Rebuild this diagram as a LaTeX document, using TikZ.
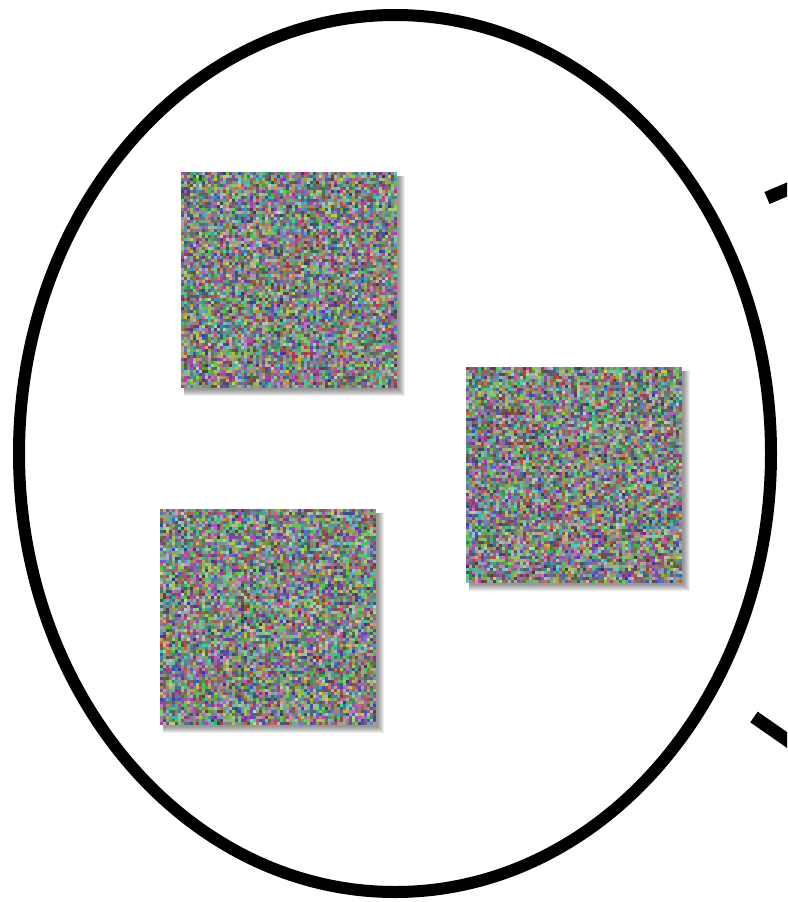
\documentclass[tikz,border=0pt]{standalone}
\usepackage{tikz}
\tikzset{
  outline/.style={line width=12pt, black},
  stub/.style={line width=13pt, black, line cap=butt},
  shadowlayer/.style={fill=black, opacity=0.07},
}
% noise square: #1 = left x, #2 = top y (pixels, y downwards), 72x72 cells of 3px
\newcommand\noisesquare[2]{%
  \begin{scope}
  \foreach \i in {0,...,71}{%
    \foreach \j in {0,...,71}{%
      \pgfmathrandominteger{\noiR}{50}{205}%
      \pgfmathrandominteger{\noiG}{55}{210}%
      \pgfmathrandominteger{\noiB}{50}{205}%
      \definecolor{noisecol}{RGB}{\noiR,\noiG,\noiB}%
      \pgfsetfillcolor{noisecol}%
      \pgfpathrectangle{\pgfqpoint{\dimexpr #1pt+3pt*\i\relax}{\dimexpr -#2pt-3pt*\j\relax}}{\pgfqpoint{3.05pt}{-3.05pt}}%
      \pgfusepath{fill}%
    }%
  }%
  \end{scope}}
\newcommand\shadowsquare[2]{% #1,#2 top-left; size 216
  \foreach \k in {1,...,7}{%
    \fill[shadowlayer] ({#1+3},{#2+4}) rectangle ({#1+216+9-\k},{#2+216+9-\k});
  }}
\begin{document}
\begin{tikzpicture}[x=1pt,y=-1pt]
\useasboundingbox (0,0) rectangle (787,902);
\pgfmathsetseed{4711}
% shadows
\shadowsquare{181}{172}
\shadowsquare{466}{367}
\shadowsquare{160}{509}
% noise squares
\noisesquare{181}{172}
\noisesquare{466}{367}
\noisesquare{160}{509}
\coordinate (sqA) at (289,280);
\coordinate (sqB) at (574,475);
\coordinate (sqC) at (268,617);
% outline ellipse
\coordinate (ctr) at (395,453.5);
\draw[outline] (ctr) ellipse [x radius=376, y radius=438.5];
% two stubs leaving to the right
\coordinate (s1a) at (767,198);
\coordinate (s1b) at (800,184);
\coordinate (s2a) at (754,717);
\coordinate (s2b) at (800,749);
\begin{scope}
\clip (0,0) rectangle (787,902);
\draw[stub] (s1a) -- (s1b);
\draw[stub] (s2a) -- (s2b);
\end{scope}
\end{tikzpicture}
\end{document}
